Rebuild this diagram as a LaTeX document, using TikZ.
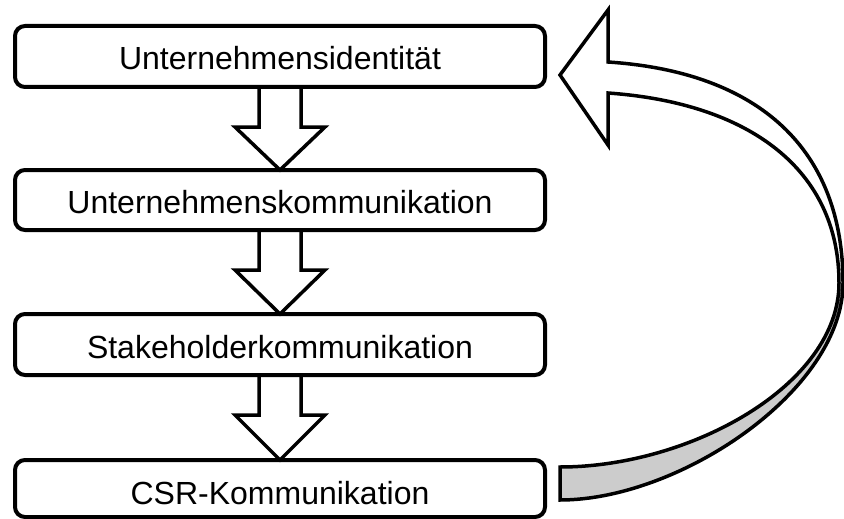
\documentclass[tikz,border=0pt]{standalone}
\usepackage{fontspec}
\setmainfont{Liberation Sans}
\usetikzlibrary{calc}
\definecolor{ribbongray}{RGB}{204,204,204}
\begin{document}
\begin{tikzpicture}[x=1pt,y=-1pt,
  stagebox/.style={draw=black, line width=4pt, rounded corners=10pt,
    minimum width=530pt, minimum height=61pt, inner sep=0pt, outer sep=0pt,
    text height=27pt, text depth=0pt,
    font=\fontsize{32}{38}\selectfont},
  downarrow/.style={draw=black, line width=3.5pt, line join=miter},
  bigarrow/.style={draw=black, line width=3.5pt, line join=miter}]
\useasboundingbox (0,0) rectangle (844,519);

\node[stagebox] (b1) at (280,56.5) {Unternehmensidentität};
\node[stagebox, minimum height=60pt] (b2) at (280,200) {Unternehmenskommunikation};
\node[stagebox] (b3) at (280,344.5) {Stakeholderkommunikation};
\node[stagebox, minimum height=57pt, text height=31pt] (b4) at (280,488.5) {CSR-Kommunikation};

\foreach \a/\b in {b1/b2, b2/b3, b3/b4}{
  \draw[downarrow] ($(\a.south)+(-21,0)$) -- ++(0,40) -- ++(-24,0) -- (\b.north)
    -- ($(\a.south)+(45,40)$) -- ++(-24,0) -- ++(0,-40);
}

% curved return arrow
\coordinate (tip) at (560,75);
\coordinate (ht) at (608,10);
\coordinate (ju) at (608,62);
\coordinate (ro) at (843,283);
\coordinate (tb) at (560,500);
\coordinate (tt) at (560,467);
\coordinate (ri) at (839,283);
\coordinate (jl) at (608,93);
\coordinate (hb) at (608,145);

\path[fill=white] (tip) -- (ht) -- (ju)
  .. controls (760,72) and (843,150) .. (ro)
  .. controls (843,390) and (680,500) .. (tb)
  -- (tt)
  .. controls (690,467) and (839,385) .. (ri)
  .. controls (839,170) and (750,103) .. (jl)
  -- (hb) -- cycle;
\path[fill=ribbongray] (ro)
  .. controls (843,390) and (680,500) .. (tb)
  -- (tt)
  .. controls (690,467) and (839,385) .. (ri) -- cycle;
\draw[bigarrow] (tip) -- (ht) -- (ju)
  .. controls (760,72) and (843,150) .. (ro)
  .. controls (843,390) and (680,500) .. (tb)
  -- (tt)
  .. controls (690,467) and (839,385) .. (ri)
  .. controls (839,170) and (750,103) .. (jl)
  -- (hb) -- cycle;
\end{tikzpicture}
\end{document}
